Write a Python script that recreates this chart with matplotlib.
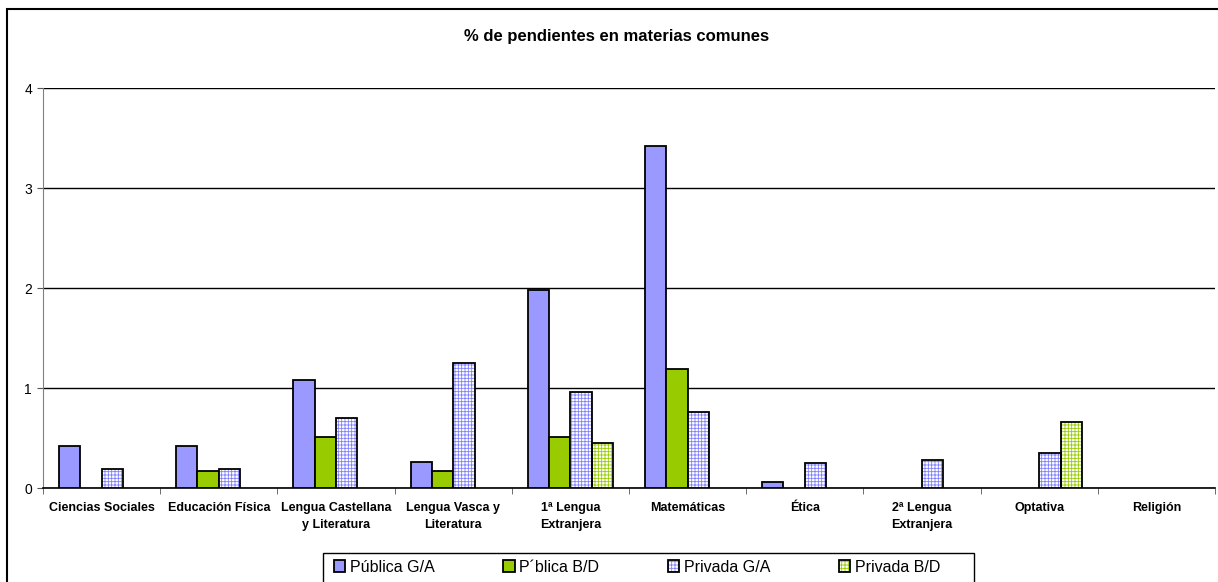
import numpy as np
import matplotlib
matplotlib.use("Agg")
import matplotlib.pyplot as plt
from matplotlib.patches import Patch, Rectangle

plt.rcParams['font.family'] = ['Liberation Sans', 'DejaVu Sans']
plt.rcParams['hatch.linewidth'] = 0.6

## Datos ##
materias = [
    "Ciencias Sociales", "Educación Física", "Lengua Castellana\ny Literatura",
    "Lengua Vasca y\nLiteratura", "1ª Lengua\nExtranjera", "Matemáticas",
    "Ética", "2ª Lengua\nExtranjera", "Optativa", "Religión",
]
series = ["Pública G/A", "P´blica B/D", "Privada G/A", "Privada B/D"]
nan = np.nan
publica_ga = [0.42, 0.42, 1.08, 0.26, 1.98, 3.42, 0.06, nan, nan, nan]
publica_bd = [nan, 0.17, 0.51, 0.17, 0.51, 1.19, nan, nan, nan, nan]
privada_ga = [0.19, 0.19, 0.70, 1.25, 0.96, 0.76, 0.25, 0.28, 0.35, nan]
privada_bd = [nan, nan, nan, nan, 0.45, nan, nan, nan, 0.66, nan]
valores = [publica_ga, publica_bd, privada_ga, privada_bd]

fill_colors = ["#9999FF", "#99CC00", "white", "white"]
hatch_colors = [None, None, "#8080FF", "#99CC00"]

fig = plt.figure(figsize=(12.18, 5.82), dpi=100)
ax = fig.add_axes([43 / 1218, 1 - 488 / 582, 1172 / 1218, 400 / 582])

x = np.arange(len(materias))
w = 1 / 5.5
handles = []
for i, (vals, fc, hc) in enumerate(zip(valores, fill_colors, hatch_colors)):
    pos = x + (i - 1.5) * w
    if hc is None:
        ax.bar(pos, vals, w, color=fc, edgecolor="black", linewidth=1.3, zorder=3)
        handles.append(Patch(facecolor=fc, edgecolor="black", linewidth=1.3))
    else:
        # rejilla de color + contorno negro
        ax.bar(pos, vals, w, color=fc, edgecolor=hc, hatch="+++++", linewidth=0, zorder=3)
        ax.bar(pos, vals, w, color="none", edgecolor="black", linewidth=1.3, zorder=4)
        handles.append((Patch(facecolor=fc, edgecolor=hc, hatch="+++++", linewidth=0),
                        Patch(facecolor="none", edgecolor="black", linewidth=1.3)))

ax.set_xlim(-0.5, len(materias) - 0.5)
ax.set_ylim(0, 4)
ax.set_yticks([0, 1, 2, 3, 4])
ax.yaxis.grid(True, color="black", linewidth=1)
ax.set_axisbelow(True)

ax.set_xticks(x)
ax.set_xticklabels(materias, fontsize=9, fontweight="bold", linespacing=1.6)
ax.set_xticks(np.arange(len(materias) + 1) - 0.5, minor=True)
ax.tick_params(axis="x", which="major", length=0, pad=10)
ax.tick_params(axis="x", which="minor", length=4, color="#555555")
ax.tick_params(axis="y", length=4, color="#555555", labelsize=10, pad=4)

for s in ["top", "right"]:
    ax.spines[s].set_visible(False)
ax.spines["left"].set_color("#808080")
ax.spines["bottom"].set_color("black")
ax.spines["bottom"].set_linewidth(1.2)

fig.text(617 / 1218, 1 - 36 / 582, "% de pendientes en materias comunes",
         ha="center", va="center", fontsize=12, fontweight="bold")

# caja de la leyenda, más ancha que las entradas
fig.add_artist(Rectangle((323 / 1218, -0.1), 651 / 1218, 0.1 + 29 / 582,
                         transform=fig.transFigure, fill=False,
                         edgecolor="black", linewidth=1))
leg = fig.legend(handles, series, loc="center left", ncol=4,
                 bbox_to_anchor=(334 / 1218, 1 - 567 / 582),
                 fontsize=11.5, frameon=False, borderpad=0,
                 handlelength=0.7, handleheight=0.7, handletextpad=0.3,
                 columnspacing=4.3, borderaxespad=0)

fig.add_artist(Rectangle((7 / 1218, -0.1), 1.1, 1.1 - 9 / 582,
                         transform=fig.transFigure, fill=False,
                         edgecolor="black", linewidth=1.5))

fig.savefig("out.png", dpi=100)
